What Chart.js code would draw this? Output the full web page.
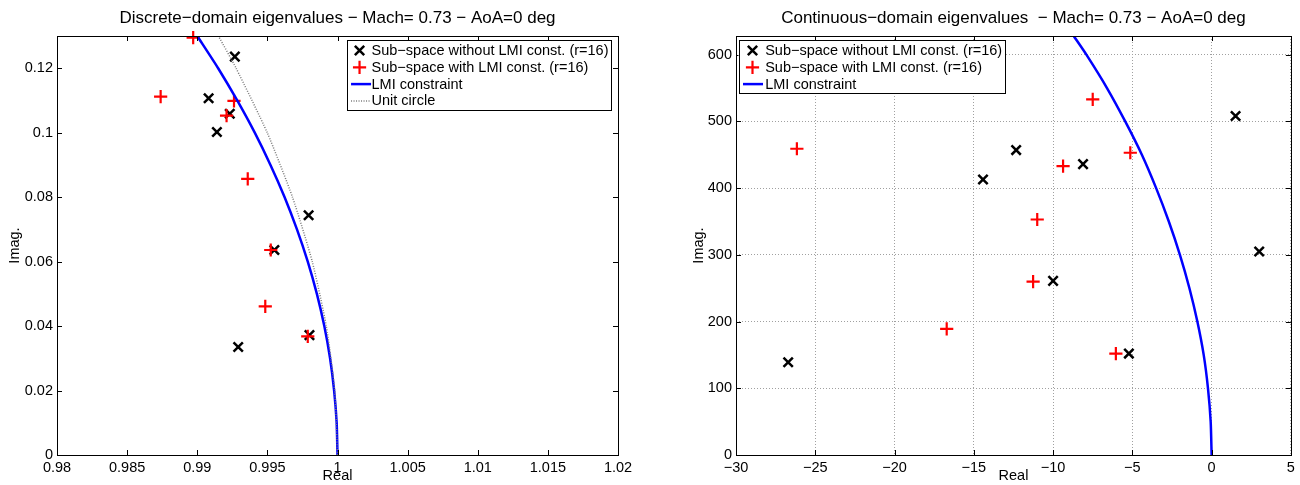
<!DOCTYPE html>
<html>
<head>
<meta charset="utf-8">
<script src="https://cdn.jsdelivr.net/npm/chart.js@4.4.1/dist/chart.umd.min.js"></script>
<style>
  body { margin: 0; background: #fff; }
  #wrap { position: relative; width: 1300px; height: 485px; }
  canvas { position: absolute; top: 0; }
</style>
</head>
<body>
<div id="wrap">
  <canvas id="discrete" width="650" height="485" style="left:0"></canvas>
  <canvas id="continuous" width="650" height="485" style="left:650px"></canvas>
</div>
<script>
// z-plane eigenvalues (real / imaginary parts)
const discFreeRe = [0.99268, 0.99081, 0.99232, 0.99140, 0.99794, 0.99550, 0.99800, 0.99292];
const discFreeIm = [0.1236, 0.1107, 0.1059, 0.1002, 0.0744, 0.0636, 0.0372, 0.0335];
const discLmiRe = [0.98971, 0.98739, 0.99262, 0.99209, 0.99360, 0.99524, 0.99485, 0.99788];
const discLmiIm = [0.1295, 0.1112, 0.1099, 0.1053, 0.0857, 0.0636, 0.0461, 0.0368];

// LMI region boundary and unit circle in the z-plane
const discBoundIm = [0, 0.01, 0.02, 0.03, 0.04, 0.05, 0.06, 0.07, 0.08, 0.09, 0.10, 0.11, 0.12, 0.13];
const discBoundRe = [1.0, 0.99994, 0.99976, 0.99947, 0.99906, 0.99853, 0.99788, 0.99711, 0.99623, 0.99522, 0.99410, 0.99285, 0.99149, 0.99000];
const unitIm = [0, 0.02, 0.04, 0.06, 0.08, 0.10, 0.12, 0.13];
const unitRe = [1.0, 0.9998, 0.9992, 0.9982, 0.99679, 0.99499, 0.99277, 0.99151];

// s-plane eigenvalues
const contFreeRe = [-26.71, -14.42, -12.33, -10.0, -8.11, -5.22, 1.51, 3.0];
const contFreeIm = [139, 413, 457, 261, 436, 152, 508, 305];
const contLmiRe = [-26.16, -16.71, -11.0, -11.26, -9.37, -7.50, -5.13, -6.04];
const contLmiIm = [459, 189, 353, 260, 433, 533, 453, 152];

// LMI region boundary in the s-plane
const contBoundIm = [0, 50, 100, 150, 200, 250, 300, 350, 400, 450, 500, 550, 600, 628];
const contBoundRe = [0, -0.06, -0.23, -0.5, -0.9, -1.4, -2.0, -2.7, -3.5, -4.4, -5.45, -6.6, -7.9, -8.7];

const labelFree = 'Sub\u2212space without LMI const. (r=16)';
const labelLmi = 'Sub\u2212space with LMI const. (r=16)';

const FONT = 'Liberation Sans, Arial, Helvetica, sans-serif';

function pts(re, im) {
  return re.map((v, i) => ({ x: v, y: im[i] }));
}

function fmt(v) {
  return String(+(+v).toFixed(4)).replace('-', '\u2212');
}

// box around the axes, inward ticks, title and the legend box
const matFrame = {
  id: 'matFrame',
  afterDatasetsDraw(chart, args, opts) {
    const ctx = chart.ctx;
    const a = chart.chartArea;
    const xs = chart.scales.x, ys = chart.scales.y;
    ctx.save();
    ctx.strokeStyle = '#000';
    ctx.lineWidth = 1;
    ctx.beginPath();
    xs.ticks.forEach(t => {
      const px = Math.round(xs.getPixelForValue(t.value)) + 0.5;
      ctx.moveTo(px, a.bottom); ctx.lineTo(px, a.bottom - 5);
      ctx.moveTo(px, a.top); ctx.lineTo(px, a.top + 5);
    });
    ys.ticks.forEach(t => {
      const py = Math.round(ys.getPixelForValue(t.value)) + 0.5;
      ctx.moveTo(a.left, py); ctx.lineTo(a.left + 5, py);
      ctx.moveTo(a.right, py); ctx.lineTo(a.right - 5, py);
    });
    ctx.stroke();
    ctx.strokeRect(Math.round(a.left) + 0.5, Math.round(a.top) + 0.5,
      Math.round(a.right - a.left), Math.round(a.bottom - a.top));

    // title
    ctx.fillStyle = '#000';
    ctx.font = '17px ' + FONT;
    ctx.textAlign = 'center';
    ctx.textBaseline = 'middle';
    ctx.fillText(opts.title, (a.left + a.right) / 2, 18);

    // legend
    const ds = chart.data.datasets;
    ctx.font = '14.5px ' + FONT;
    let tw = 0;
    ds.forEach(d => { tw = Math.max(tw, ctx.measureText(d.label).width); });
    const w = opts.textOffset + tw + 2;
    const h = ds.length * 16.8 + 2.7;
    const bx = opts.align === 'right' ? a.right - opts.margin - w : a.left + opts.margin;
    const by = a.top + 4;
    ctx.fillStyle = '#fff';
    ctx.fillRect(bx, by, w, h);
    ctx.strokeStyle = '#000';
    ctx.lineWidth = 1;
    ctx.strokeRect(Math.round(bx) + 0.5, Math.round(by) + 0.5, Math.round(w), Math.round(h));
    ds.forEach((d, i) => {
      const cy = by + 10.5 + i * 16.8;
      const cx = bx + opts.markerOffset;
      ctx.strokeStyle = d.borderColor;
      if (d.showLine) {
        ctx.lineWidth = d.borderWidth;
        ctx.setLineDash(d.borderDash || []);
        ctx.beginPath();
        ctx.moveTo(bx + 4.5, cy); ctx.lineTo(bx + 24.5, cy);
        ctx.stroke();
        ctx.setLineDash([]);
      } else {
        const r = d.pointRadius;
        ctx.lineWidth = d.pointBorderWidth;
        ctx.beginPath();
        if (d.pointStyle === 'crossRot') {
          const o = r * Math.SQRT1_2;
          ctx.moveTo(cx - o, cy - o); ctx.lineTo(cx + o, cy + o);
          ctx.moveTo(cx - o, cy + o); ctx.lineTo(cx + o, cy - o);
        } else {
          ctx.moveTo(cx - r, cy); ctx.lineTo(cx + r, cy);
          ctx.moveTo(cx, cy - r); ctx.lineTo(cx, cy + r);
        }
        ctx.stroke();
      }
      ctx.fillStyle = '#000';
      ctx.textAlign = 'left';
      ctx.textBaseline = 'middle';
      ctx.fillText(d.label, bx + opts.textOffset, cy + 0.5);
    });
    ctx.restore();
  }
};

function markerSet(label, data, style, color, width, order) {
  return {
    label: label,
    data: data,
    showLine: false,
    pointStyle: style,
    pointRadius: 6.6,
    pointHoverRadius: 6.6,
    pointBorderWidth: width,
    pointBorderColor: color,
    borderColor: color,
    backgroundColor: color,
    clip: false,
    order: order
  };
}

function lineSet(label, data, color, width, dash, order) {
  return {
    label: label,
    data: data,
    showLine: true,
    borderColor: color,
    borderWidth: width,
    borderDash: dash,
    pointRadius: 0,
    tension: 0.2,
    fill: false,
    order: order
  };
}

function axes(xr, yr, grid, yWidth) {
  const gridCfg = grid
    ? { display: true, color: '#a0a0a0', lineWidth: 1, drawTicks: false }
    : { display: false, drawTicks: false };
  const tickFont = { family: FONT, size: 14.5 };
  return {
    x: {
      type: 'linear', min: xr[0], max: xr[1],
      ticks: { stepSize: xr[2], includeBounds: false, padding: 4, color: '#000',
        font: tickFont, maxRotation: 0, callback: fmt },
      grid: gridCfg,
      border: { display: false, dash: [1, 2] },
      title: { display: true, text: 'Real', color: '#000', padding: 0, font: tickFont },
      afterFit: s => { s.height = 30; }
    },
    y: {
      type: 'linear', min: yr[0], max: yr[1],
      ticks: { stepSize: yr[2], includeBounds: false, padding: 4, color: '#000',
        font: tickFont, callback: fmt },
      grid: gridCfg,
      border: { display: false, dash: [1, 2] },
      title: { display: true, text: 'Imag.', color: '#000', padding: 0, font: tickFont },
      afterFit: s => { s.width = yWidth; }
    }
  };
}

new Chart(document.getElementById('discrete'), {
  type: 'scatter',
  data: {
    datasets: [
      markerSet(labelFree, pts(discFreeRe, discFreeIm), 'crossRot', '#000000', 2.5, 4),
      markerSet(labelLmi, pts(discLmiRe, discLmiIm), 'cross', '#ff0000', 2.2, 3),
      lineSet('LMI constraint', pts(discBoundRe, discBoundIm), '#0000ff', 2.5, [], 2),
      lineSet('Unit circle', pts(unitRe, unitIm), '#7a7a7a', 1.5, [1, 1.5], 1)
    ]
  },
  options: {
    responsive: false,
    animation: false,
    layout: { padding: { left: 6, right: 32, top: 36, bottom: 0 } },
    scales: axes([0.98, 1.02, 0.005], [0, 0.13, 0.02], false, 51),
    plugins: {
      legend: { display: false },
      tooltip: { enabled: false },
      matFrame: {
        title: 'Discrete\u2212domain eigenvalues \u2212 Mach= 0.73 \u2212 AoA=0 deg',
        align: 'right', margin: 7.5, markerOffset: 13, textOffset: 25
      }
    }
  },
  plugins: [matFrame]
});

new Chart(document.getElementById('continuous'), {
  type: 'scatter',
  data: {
    datasets: [
      markerSet(labelFree, pts(contFreeRe, contFreeIm), 'crossRot', '#000000', 2.5, 4),
      markerSet(labelLmi, pts(contLmiRe, contLmiIm), 'cross', '#ff0000', 2.2, 3),
      lineSet('LMI constraint', pts(contBoundRe, contBoundIm), '#0000ff', 2.5, [], 2)
    ]
  },
  options: {
    responsive: false,
    animation: false,
    layout: { padding: { left: 40, right: 7, top: 36, bottom: 0 } },
    scales: axes([-30, 5, 5], [0, 628, 100], true, 46),
    plugins: {
      legend: { display: false },
      tooltip: { enabled: false },
      matFrame: {
        title: 'Continuous\u2212domain eigenvalues  \u2212 Mach= 0.73 \u2212 AoA=0 deg',
        align: 'left', margin: 2.5, markerOffset: 14, textOffset: 26.7
      }
    }
  },
  plugins: [matFrame]
});
</script>
</body>
</html>
